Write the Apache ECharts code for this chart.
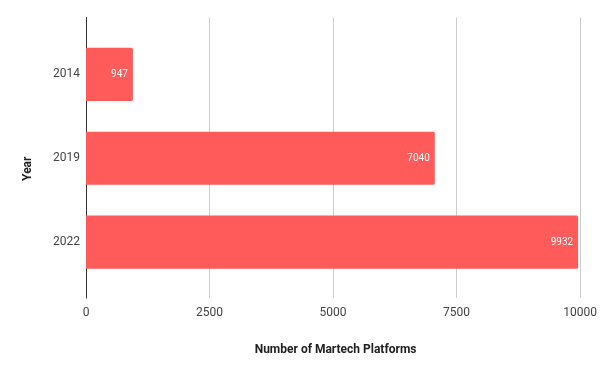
<!DOCTYPE html>
<html><head><meta charset="utf-8">
<script src="https://cdn.jsdelivr.net/npm/echarts@6/dist/echarts.min.js"></script>
<style>html,body{margin:0;padding:0;background:#fff}#c{width:600px;height:371px}</style>
</head><body><div id="c"></div>
<script>
var years = ['2014', '2019', '2022'];
var platforms = [947, 7040, 9932];
var xTicks = [0, 2500, 5000, 7500, 10000];

var chart = echarts.init(document.getElementById('c'), null, {renderer: 'canvas'});
var font = 'Roboto';
chart.setOption({
  animation: false,
  backgroundColor: '#ffffff',
  grid: [
    {left: 86, right: 18.5, top: 17.5, bottom: 73, containLabel: false},
    {left: 86, right: 18.5, top: 32.5, bottom: 87, containLabel: false}
  ],
  xAxis: [
    {gridIndex: 0, type: 'value', min: xTicks[0], max: xTicks[xTicks.length - 1], interval: 2500,
     name: 'Number of Martech Platforms', nameLocation: 'middle', nameGap: 46,
     nameTextStyle: {fontFamily: font, fontSize: 12, fontWeight: 'bold', color: '#222', padding: [0, 0, 0, 5]},
     axisLine: {show: false}, axisTick: {show: false},
     axisLabel: {fontFamily: font, fontSize: 12, color: '#444', margin: 9,
                 formatter: function (v) { return String(v); }},
     splitLine: {show: true, lineStyle: {color: '#cccccc', width: 1}}},
    {gridIndex: 1, type: 'value', min: xTicks[0], max: xTicks[xTicks.length - 1], show: false}
  ],
  yAxis: [
    {gridIndex: 0, type: 'category', data: years, inverse: true,
     name: 'Year', nameLocation: 'middle', nameGap: 52, nameRotate: 90,
     nameTextStyle: {fontFamily: font, fontSize: 12, fontWeight: 'bold', color: '#222', padding: [0, 0, 0, -22]},
     axisLine: {show: true, lineStyle: {color: '#333', width: 1}}, axisTick: {show: false},
     axisLabel: {show: false}, splitLine: {show: false}},
    {gridIndex: 1, type: 'category', data: years, inverse: true,
     axisLine: {show: false}, axisTick: {show: false},
     axisLabel: {fontFamily: font, fontSize: 12, color: '#444', margin: 6},
     splitLine: {show: false}}
  ],
  series: [{
    type: 'bar', xAxisIndex: 1, yAxisIndex: 1, data: platforms,
    barCategoryGap: '36.5%',
    itemStyle: {color: '#ff5b5a', borderRadius: [0, 1.5, 1.5, 0]},
    label: {show: true, position: 'insideRight', distance: 5, fontFamily: font, fontSize: 10, color: '#ffffff'}
  }]
});
</script></body></html>
